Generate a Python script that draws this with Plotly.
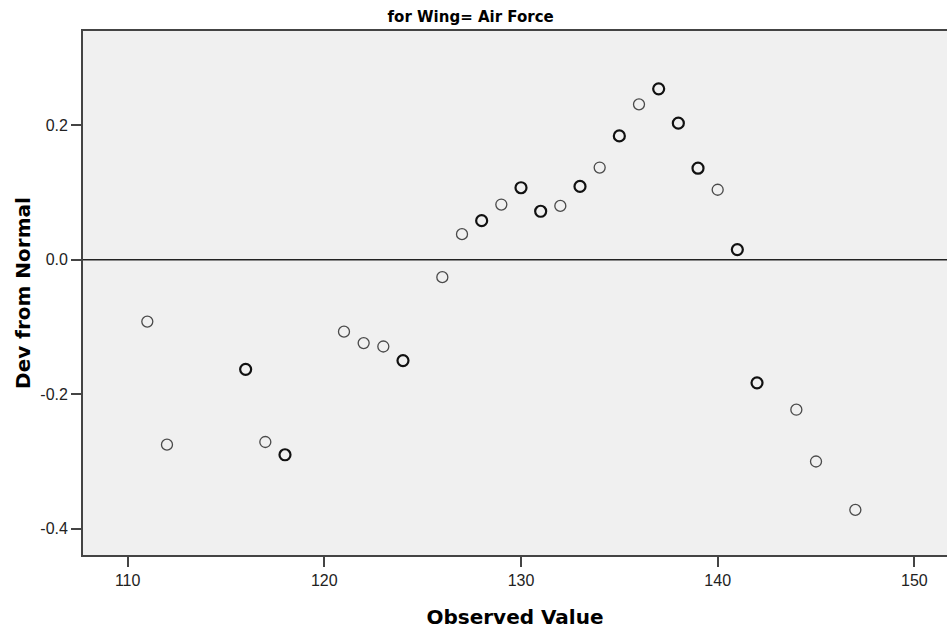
import plotly.graph_objects as go

observed = [111, 112, 116, 117, 118, 121, 122, 123, 124, 126, 127, 128, 129, 130,
            131, 132, 133, 134, 135, 136, 137, 138, 139, 140, 141, 142, 144, 145, 147]
dev_from_normal = [-0.092, -0.275, -0.163, -0.271, -0.290, -0.107, -0.124, -0.129, -0.150,
                   -0.026, 0.038, 0.058, 0.082, 0.107, 0.072, 0.080, 0.109, 0.137, 0.184,
                   0.231, 0.254, 0.203, 0.136, 0.104, 0.015, -0.183, -0.223, -0.300, -0.372]
# number of overlapping cases at each point (darker rings)
cases = [1, 1, 2, 1, 2, 1, 1, 1, 2, 1, 1, 2, 1, 2, 2, 1, 2, 1, 2, 1, 2, 2, 2, 1, 2, 2, 1, 1, 1]

x_ticks = [110, 120, 130, 140, 150]
x_tick_labels = ["110", "120", "130", "140", "150"]
y_ticks = [0.2, 0.0, -0.2, -0.4]
y_tick_labels = ["0.2", "0.0", "-0.2", "-0.4"]

widths = [1.3 if c == 1 else 2.2 for c in cases]
colors = ["#4a4a4a" if c == 1 else "#111111" for c in cases]

fig = go.Figure()
fig.add_trace(go.Scatter(
    x=observed, y=dev_from_normal, mode="markers",
    marker=dict(symbol="circle-open", size=11, color=colors,
                line=dict(width=widths, color=colors)),
    showlegend=False, hoverinfo="x+y",
))

fig.add_hline(y=0, line=dict(color="#222222", width=1.6))

tick_family = "Liberation Sans, Arial, sans-serif"
bold_family = "DejaVu Sans, Verdana, sans-serif"
fig.update_layout(
    width=947, height=629,
    margin=dict(l=83, r=0, t=31, b=74),
    paper_bgcolor="white",
    plot_bgcolor="#f0f0f0",
    font=dict(family=tick_family, color="#222222", size=12),
    title=dict(text="<b>for Wing= Air Force</b>", x=0.497, xref="container", xanchor="center",
               y=1, yref="container", yanchor="top", pad=dict(t=11),
               font=dict(size=15, color="#000000", family=bold_family)),
)
fig.update_xaxes(
    range=[107.73, 151.66], tickvals=x_ticks, ticktext=x_tick_labels,
    showgrid=False, zeroline=False,
    showline=True, linecolor="#444444", linewidth=1.8, mirror=True,
    ticks="outside", ticklen=10, tickwidth=1.5, tickcolor="#444444",
    tickfont=dict(size=16, color="#222222", family=tick_family),
    title=dict(text="<b>Observed Value</b>", font=dict(size=20, color="#000000", family=bold_family),
               standoff=22),
)
fig.update_yaxes(
    range=[-0.439, 0.34], tickvals=y_ticks, ticktext=y_tick_labels,
    showgrid=False, zeroline=False,
    showline=True, linecolor="#444444", linewidth=1.8,
    ticks="outside", ticklen=10, tickwidth=1.5, tickcolor="#444444",
    tickfont=dict(size=16, color="#222222", family=tick_family),
    title=dict(text="<b>Dev from Normal</b>", font=dict(size=20, color="#000000", family=bold_family),
               standoff=4),
)

fig.write_html("out.html")
